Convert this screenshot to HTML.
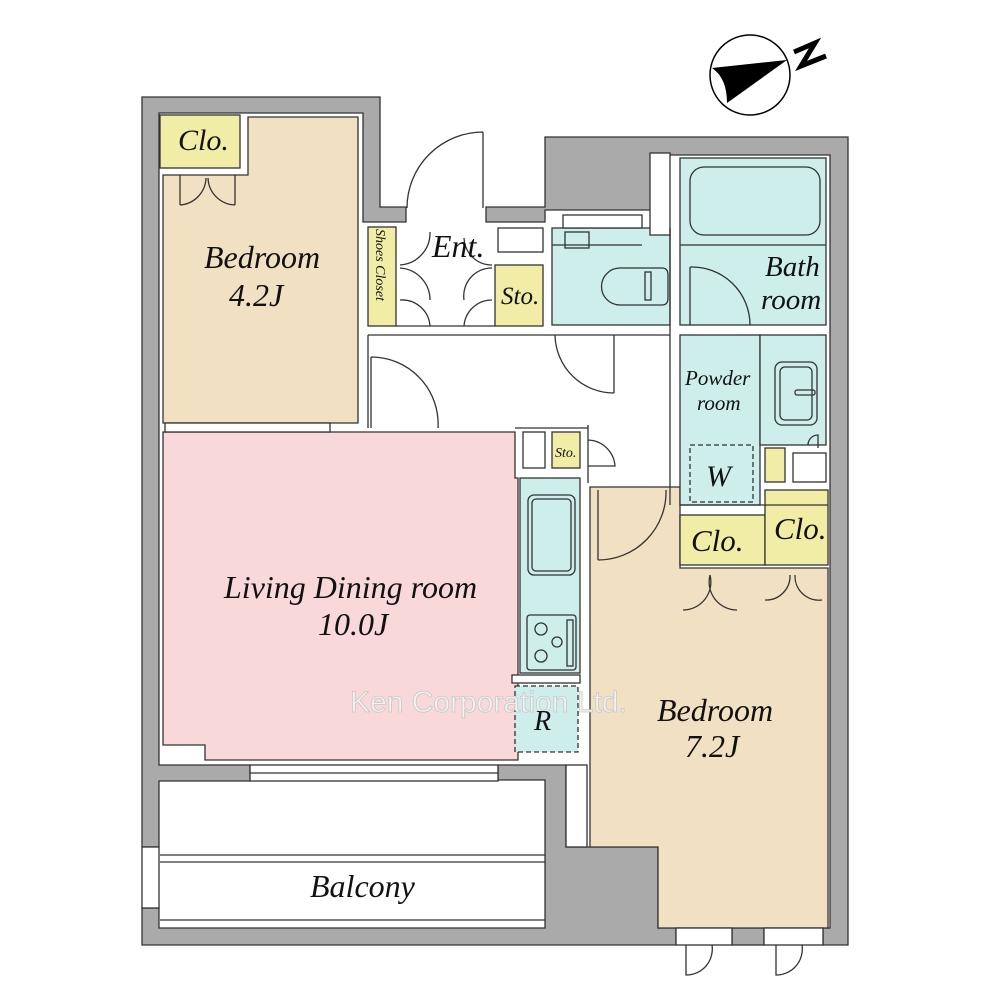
<!DOCTYPE html>
<html><head><meta charset="utf-8"><style>
html,body{margin:0;padding:0;background:#fff;}
svg{display:block}
text{font-family:"Liberation Serif",serif;font-style:italic;fill:#111}
</style></head><body>
<svg width="1000" height="1000" viewBox="0 0 1000 1000" xmlns="http://www.w3.org/2000/svg">
<rect width="1000" height="1000" fill="#fff"/>
<g stroke="#333" stroke-width="1.3">
<path d="M142 97 H380 V207 H406 V222 H363 V113 H159 V765 H250 V781 H159 V847 H142 Z" fill="#aaa"/>
<path d="M142 908 H159 V928 H545 V780 H498 V765 H566 V847 H658 V928 H676 V945 H142 Z" fill="#aaa"/>
<rect x="142" y="847" width="17" height="61" fill="#fff"/>
<path d="M486 207 H545 V137 H848 V945 H823 V928 H830 V155 H654 V210 H545 V222 H486 Z" fill="#aaa"/>
<rect x="732" y="928" width="32" height="17" fill="#aaa"/>
<path d="M248 117 H358 V423 H163 V175 H248 Z" fill="#f2e0c2"/>
<rect x="160" y="115" width="80" height="53" fill="#f2eda6"/>
<path d="M163 432 H515 V478 H518 V760 H205 V745 H163 Z" fill="#f8d8d8"/>
<path d="M590 487 H680 V568 H828 V928 H658 V847 H590 Z" fill="#f2e0c2"/>
<rect x="368" y="227" width="28" height="99" fill="#f2eda6"/>
<rect x="495" y="265" width="48" height="61" fill="#f2eda6"/>
<rect x="552" y="432" width="28" height="36" fill="#f2eda6"/>
<rect x="680" y="515" width="85" height="50" fill="#f2eda6"/>
<rect x="765" y="490" width="63" height="75" fill="#f2eda6"/>
<rect x="765" y="448" width="20" height="34" fill="#f2eda6"/>
<rect x="680" y="158" width="146" height="167" fill="#cdeeea"/>
<rect x="552" y="228" width="118" height="97" fill="#cdeeea"/>
<rect x="680" y="335" width="80" height="170" fill="#cdeeea"/>
<rect x="760" y="335" width="66" height="110" fill="#cdeeea"/>
<rect x="520" y="478" width="60" height="195" fill="#cdeeea"/>
<rect x="515" y="686" width="63" height="66" fill="#cdeeea" stroke-dasharray="5,3"/>
<rect x="690" y="445" width="63" height="57" fill="none" stroke-dasharray="5,3"/>
<rect x="498" y="228" width="45" height="24" fill="#fff"/>
<rect x="563" y="215" width="79" height="13" fill="#fff"/>
<rect x="650" y="153" width="20" height="82" fill="#fff"/>
<rect x="793" y="453" width="33" height="29" fill="#fff"/>
<rect x="523" y="432" width="22" height="36" fill="#fff"/>
<rect x="512" y="675" width="68" height="8" fill="#fff"/>
<rect x="566" y="765" width="21" height="82" fill="#fff"/>
<rect x="690" y="167" width="130" height="68" rx="14" fill="none"/>
<line x1="680" y1="245" x2="826" y2="245"/>
<rect x="565" y="232" width="24" height="16" fill="none"/>
<line x1="552" y1="245" x2="642" y2="245"/>
<path d="M620 268 H662 Q668 268 668 275 V298 Q668 305 662 305 H620 A18 18 0 0 1 620 268 Z" fill="none"/>
<rect x="645" y="272" width="6" height="28" fill="none"/>
<rect x="775" y="362" width="42" height="63" rx="7" fill="none"/>
<rect x="780" y="367" width="32" height="53" rx="5" fill="none"/>
<rect x="795" y="390" width="20" height="5" rx="2" fill="none"/>
<rect x="528" y="495" width="47" height="80" rx="6" fill="none"/>
<rect x="532" y="499" width="39" height="72" rx="4" fill="none"/>
<rect x="527" y="615" width="49" height="55" rx="3" fill="none"/>
<circle cx="541" cy="629" r="6" fill="none"/><circle cx="557" cy="642" r="5" fill="none"/><circle cx="541" cy="656" r="6" fill="none"/>
<rect x="567" y="620" width="6" height="46" fill="none"/>
<line x1="368" y1="335" x2="368" y2="428"/>
<line x1="368" y1="335" x2="670" y2="335"/>
<line x1="588" y1="425" x2="588" y2="483"/>
<line x1="515" y1="428" x2="588" y2="428"/>
<line x1="670" y1="228" x2="670" y2="505"/>
<line x1="680" y1="505" x2="828" y2="505"/>
<line x1="396" y1="326" x2="495" y2="326"/>
<rect x="165" y="423" width="165" height="9" fill="#fff"/>
<rect x="250" y="765" width="248" height="16" fill="#fff"/>
<line x1="250" y1="773" x2="498" y2="773"/>
<line x1="160" y1="855" x2="545" y2="855"/><line x1="160" y1="862" x2="545" y2="862"/>
<line x1="160" y1="920" x2="545" y2="920"/>
<rect x="676" y="928" width="56" height="17" fill="#fff"/>
<rect x="764" y="928" width="59" height="17" fill="#fff"/>
<g fill="none">
<path d="M483 132 V208 M483 132 A76 76 0 0 0 407 208"/>
<path d="M371 357 V428 M371 357 A67 67 0 0 1 438 428"/>
<path d="M614 335 V393 M555 335 A59 59 0 0 0 614 393"/>
<path d="M690 267 V325 M690 267 A58 58 0 0 1 750 325"/>
<path d="M598 490 V560 M598 560 A68 68 0 0 0 666 490"/>
<path d="M588 440 A28 28 0 0 1 615 466 H588"/>
<path d="M180 205 A28 28 0 0 0 206 178 M235 205 A28 28 0 0 1 208 178 M180 175 V205 M235 175 V205"/>
<path d="M400 265 A32 32 0 0 0 430 232 M400 268 A32 32 0 0 1 430 300 M400 300 A28 28 0 0 1 430 326"/>
<path d="M492 265 A28 28 0 0 1 464 238 M492 268 A28 28 0 0 0 464 300 M492 300 A28 28 0 0 0 464 326"/>
<path d="M683 610 A28 28 0 0 0 710 575 M737 610 A28 28 0 0 1 710 575 M765 600 A24 24 0 0 0 790 575 M822 600 A24 24 0 0 1 795 575"/>
<path d="M686 945 V975 A26 26 0 0 0 712 945 M776 945 V975 A26 26 0 0 0 802 945"/>
<path d="M808 445 A10 10 0 0 1 818 435 V448"/>
</g>
</g>
<circle cx="750" cy="75" r="40" fill="none" stroke="#000" stroke-width="1.5"/>
<path d="M787 60 L712 68 Q727 78 727 103 Z" fill="#000"/>
<path d="M794 52 L815 43 L801 66 L826 56" fill="none" stroke="#000" stroke-width="5" stroke-linejoin="miter"/>
<text x="350" y="712" font-size="30" style="font-family:'Liberation Sans',sans-serif;font-style:normal;fill:#f2f2f2;stroke:#c8c8c8;stroke-width:0.8">Ken Corporation Ltd.</text>
<text x="178" y="150" font-size="30">Clo.</text>
<text x="204" y="268" font-size="32">Bedroom</text>
<text x="229" y="306" font-size="32">4.2J</text>
<text x="432" y="257" font-size="32">Ent.</text>
<text x="501" y="304" font-size="25">Sto.</text>
<text x="0" y="0" font-size="14" transform="translate(376 229) rotate(90)">Shoes Closet</text>
<text x="765" y="276" font-size="29">Bath</text>
<text x="761" y="309" font-size="29">room</text>
<text x="685" y="385" font-size="21">Powder</text>
<text x="697" y="410" font-size="21">room</text>
<text x="706" y="486" font-size="30">W</text>
<text x="555" y="457" font-size="14">Sto.</text>
<text x="691" y="551" font-size="31">Clo.</text>
<text x="774" y="539" font-size="31">Clo.</text>
<text x="224" y="598" font-size="32">Living Dining room</text>
<text x="318" y="635" font-size="32">10.0J</text>
<text x="534" y="730" font-size="28">R</text>
<text x="657" y="721" font-size="32">Bedroom</text>
<text x="685" y="757" font-size="32">7.2J</text>
<text x="310" y="897" font-size="32">Balcony</text>
</svg>
</body></html>
